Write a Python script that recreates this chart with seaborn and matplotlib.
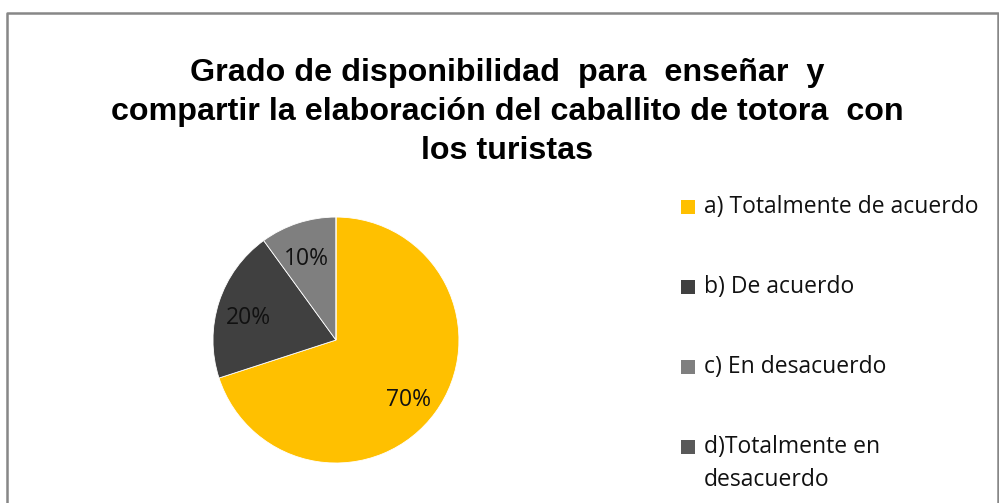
import matplotlib
matplotlib.use("Agg")
import matplotlib.pyplot as plt
import matplotlib.transforms as mtransforms
import seaborn as sns
from matplotlib.lines import Line2D
from matplotlib.patches import Patch

# data
categorias = ["a) Totalmente de acuerdo", "b) De acuerdo", "c) En desacuerdo",
              "d)Totalmente en\ndesacuerdo"]
porcentajes = [70, 20, 10, 0]
colores = ["#FFC000", "#404040", "#7F7F7F", "#595959"]
titulo = ("Grado de disponibilidad  para  enseñar  y\n"
          "compartir la elaboración del caballito de totora  con\n"
          "los turistas")

sns.set_theme(style="white")
plt.rcParams["font.family"] = ["Open Sans", "DejaVu Sans"]
palette = sns.color_palette(colores)

fig = plt.figure(figsize=(9.99, 5.03), dpi=100)
ax = fig.add_axes([0.2132, 0.0795, 0.2462, 0.489])

def etiqueta(p):
    return f"{p:.0f}%" if p > 0.5 else ""

wedges, texts, autotexts = ax.pie(
    porcentajes, colors=palette, startangle=90, counterclock=False,
    autopct=etiqueta, pctdistance=0.74, radius=1,
    wedgeprops=dict(linewidth=0.6, edgecolor="white"),
    textprops=dict(fontsize=16.5, color="#111111"))
# nudge the percent labels down a little, like the reference
for t in autotexts:
    t.set_transform(mtransforms.offset_copy(ax.transData, fig=fig, x=-1, y=-6, units="dots"))
ax.set_xlim(-1, 1)
ax.set_ylim(-1, 1)
ax.set_aspect("equal")

fig.text(0.508, 1 - 58.5 / 503, titulo, ha="center", va="top", fontsize=23.2,
         fontweight="bold", family=["Liberation Sans", "DejaVu Sans"],
         linespacing=1.37, color="black")

# legend, drawn by hand to match spacing
handles = [Patch(facecolor=c, edgecolor="none") for c in palette]
ys = [207, 287, 367, 447]
for h, lab, y in zip(handles, categorias, ys):
    fig.patches.append(plt.Rectangle((681 / 999, 1 - (y + 7) / 503), 14 / 999, 14 / 503,
                                     transform=fig.transFigure, facecolor=h.get_facecolor(),
                                     edgecolor="none"))
    fig.text(704 / 999, 1 - y / 503, lab.split("\n")[0], ha="left", va="center",
             fontsize=16.5, color="#111111")
    if "\n" in lab:
        fig.text(704 / 999, 1 - (y + 33) / 503, lab.split("\n")[1], ha="left",
                 va="center", fontsize=16.5, color="#111111")

# chart area border (bottom edge is outside the image)
borde = dict(color="#878787", linewidth=1.8, transform=fig.transFigure)
x0, x1, ytop = 6.5 / 999, 997.5 / 999, 1 - 12.5 / 503
fig.add_artist(Line2D([x0, x0, x1, x1], [0, ytop, ytop, 0], **borde))

fig.savefig("out.png", dpi=100)
